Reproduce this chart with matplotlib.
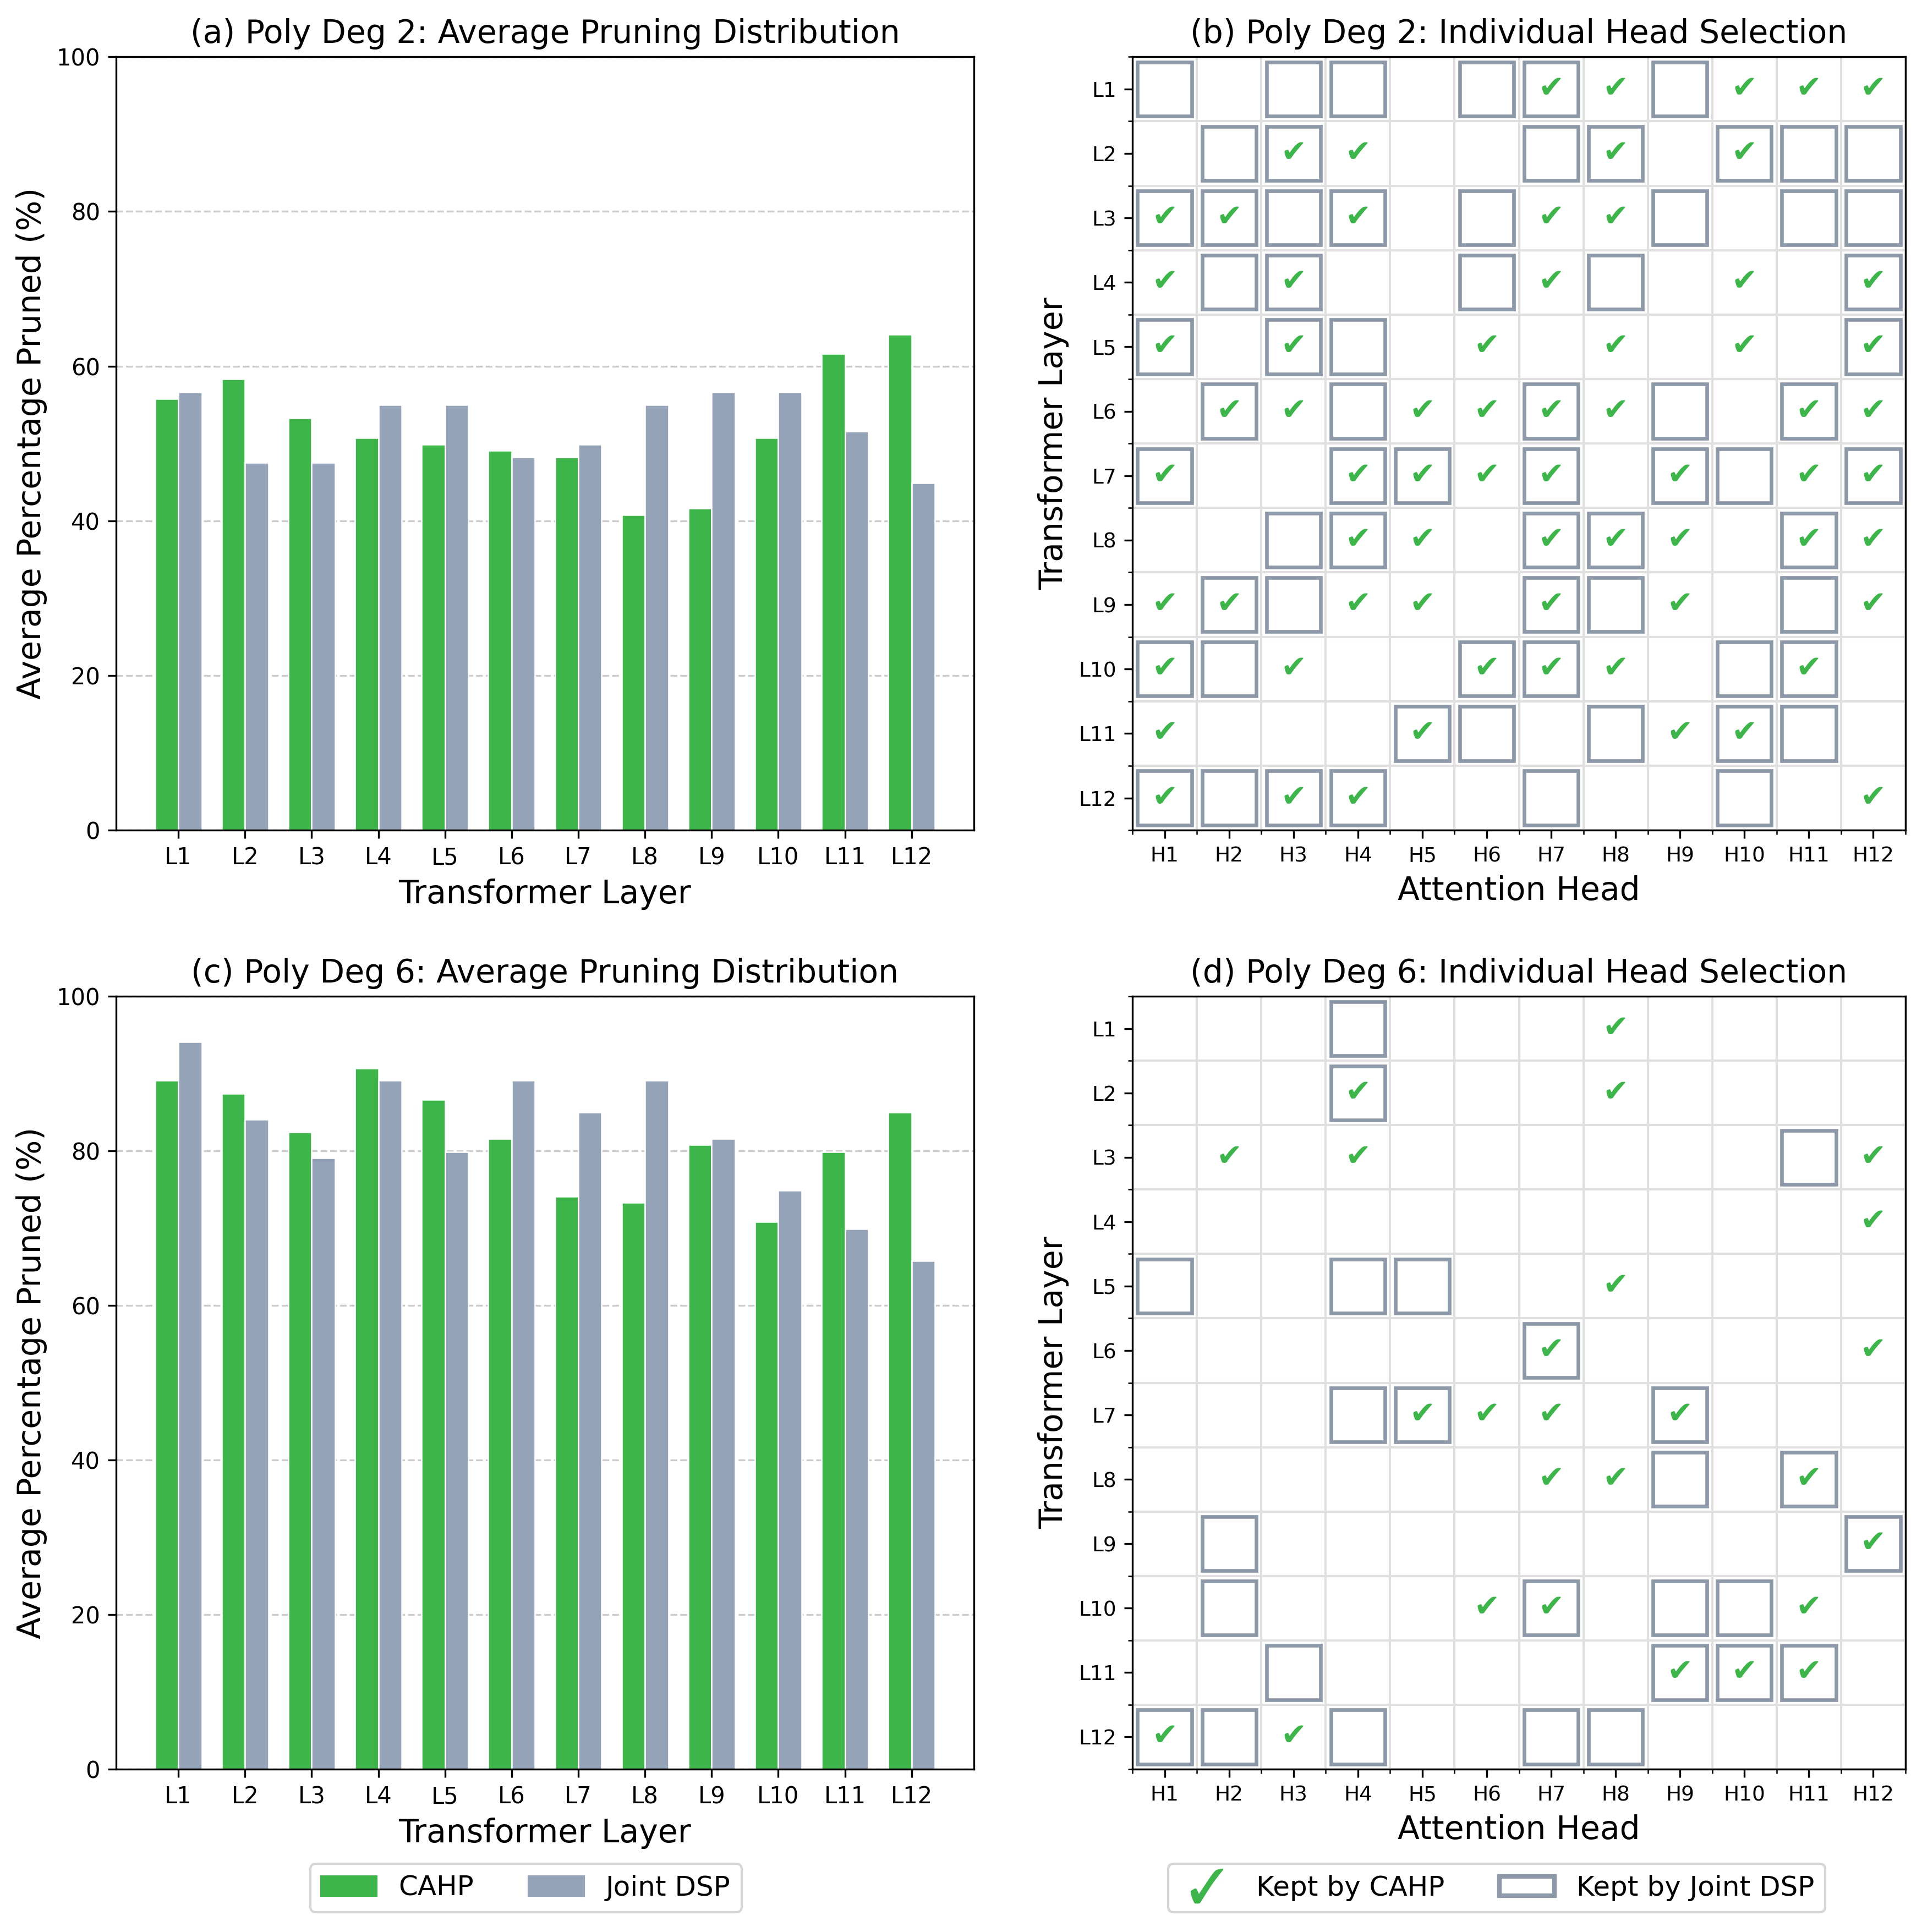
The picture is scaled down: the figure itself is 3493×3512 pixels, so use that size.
import matplotlib
matplotlib.use("Agg")
import matplotlib.pyplot as plt
import numpy as np
from matplotlib.patches import Rectangle, Patch
from matplotlib.lines import Line2D

plt.rcParams["mathtext.fontset"] = "stix"

layers = [f"L{i}" for i in range(1, 13)]
heads = [f"H{i}" for i in range(1, 13)]

# average % pruned per layer
cahp_deg2 = [55.8, 58.3, 53.3, 50.7, 49.9, 49.1, 48.2, 40.8, 41.6, 50.7, 61.6, 64.1]
dsp_deg2 = [56.6, 47.5, 47.5, 55.0, 55.0, 48.2, 49.9, 55.0, 56.6, 56.6, 51.6, 44.9]
cahp_deg6 = [89.1, 87.4, 82.4, 90.7, 86.6, 81.6, 74.1, 73.3, 80.8, 70.8, 79.9, 85.0]
dsp_deg6 = [94.1, 84.1, 79.1, 89.1, 79.9, 89.1, 85.0, 89.1, 81.6, 74.9, 69.9, 65.8]

# kept heads per layer (1-based head numbers)
cahp_heads_deg2 = [
    [7, 8, 10, 11, 12],
    [3, 4, 8, 10],
    [1, 2, 4, 7, 8],
    [1, 3, 7, 10, 12],
    [1, 3, 6, 8, 10, 12],
    [2, 3, 5, 6, 7, 8, 11, 12],
    [1, 4, 5, 6, 7, 9, 11, 12],
    [4, 5, 7, 8, 9, 11, 12],
    [1, 2, 4, 5, 7, 9, 12],
    [1, 3, 6, 7, 8, 11],
    [1, 5, 9, 10],
    [1, 3, 4, 12],
]
dsp_heads_deg2 = [
    [1, 3, 4, 6, 7, 9],
    [2, 3, 7, 8, 10, 11, 12],
    [1, 2, 3, 4, 6, 9, 11, 12],
    [2, 3, 6, 8, 12],
    [1, 3, 4, 12],
    [2, 4, 7, 9, 11],
    [1, 4, 5, 7, 9, 10, 12],
    [3, 4, 7, 8, 11],
    [2, 3, 7, 8, 11],
    [1, 2, 6, 7, 10, 11],
    [5, 6, 8, 10, 11],
    [1, 2, 3, 4, 7, 10],
]
cahp_heads_deg6 = [
    [8], [4, 8], [2, 4, 12], [12], [8], [7, 12],
    [5, 6, 7, 9], [7, 8, 11], [12], [6, 7, 11], [9, 10, 11], [1, 3],
]
dsp_heads_deg6 = [
    [4], [4], [11], [], [1, 4, 5], [7],
    [4, 5, 9], [9, 11], [2, 12], [2, 7, 9, 10], [3, 9, 10, 11], [1, 2, 4, 7, 8],
]

GREEN = "#3db54a"
GRAY = "#94a3b8"
BOX = "#8d98a8"

W, H = 3493, 3512
fig = plt.figure(figsize=(W / 300, H / 300), dpi=300)


def bar_panel(rect, cahp, dsp, title):
    ax = fig.add_axes(rect)
    x = np.arange(len(layers))
    w = 0.35
    ax.bar(x - w / 2, cahp, w, color=GREEN, edgecolor="white", linewidth=0.6, label="CAHP")
    ax.bar(x + w / 2, dsp, w, color=GRAY, edgecolor="white", linewidth=0.6, label="Joint DSP")
    ax.set_xticks(x, layers, fontsize=10)
    ax.tick_params(axis="y", labelsize=10)
    ax.set_ylim(0, 100)
    ax.yaxis.grid(True, linestyle="--", color="#cccccc", linewidth=0.8)
    ax.set_axisbelow(True)
    ax.set_xlabel("Transformer Layer", fontsize=14)
    ax.set_ylabel("Average Percentage Pruned (%)", fontsize=14)
    ax.set_title(title, fontsize=14)
    return ax


def head_panel(rect, cahp_heads, dsp_heads, title):
    ax = fig.add_axes(rect)
    n = len(layers)
    ax.set_xlim(-0.5, n - 0.5)
    ax.set_ylim(n - 0.5, -0.5)
    ax.set_xticks(range(n), heads, fontsize=9)
    ax.set_yticks(range(n), layers, fontsize=9)
    ax.set_xticks(np.arange(-0.5, n, 1), minor=True)
    ax.set_yticks(np.arange(-0.5, n, 1), minor=True)
    ax.grid(which="minor", color="#e0e0e0", linewidth=1.0)
    ax.tick_params(which="minor", length=2)
    ax.set_axisbelow(True)
    for i in range(n):
        for h in dsp_heads[i]:
            ax.add_patch(Rectangle((h - 1 - 0.42, i - 0.42), 0.84, 0.84, fill=False,
                                   edgecolor=BOX, linewidth=1.6, zorder=3))
        for h in cahp_heads[i]:
            ax.text(h - 1, i, "\u2714", ha="center", va="center", color=GREEN,
                    fontsize=13.5, zorder=4)
    ax.set_xlabel("Attention Head", fontsize=14)
    ax.set_ylabel("Transformer Layer", fontsize=14)
    ax.set_title(title, fontsize=14)
    return ax


bar_panel([0.0604, 0.5703, 0.4463, 0.4003], cahp_deg2, dsp_deg2,
          "(a) Poly Deg 2: Average Pruning Distribution")
head_panel([0.5892, 0.5703, 0.4022, 0.4003], cahp_heads_deg2, dsp_heads_deg2,
           "(b) Poly Deg 2: Individual Head Selection")
bar_panel([0.0604, 0.0843, 0.4463, 0.4000], cahp_deg6, dsp_deg6,
          "(c) Poly Deg 6: Average Pruning Distribution")
head_panel([0.5892, 0.0843, 0.4022, 0.4000], cahp_heads_deg6, dsp_heads_deg6,
           "(d) Poly Deg 6: Individual Head Selection")

bar_handles = [Patch(color=GREEN, label="CAHP"), Patch(color=GRAY, label="Joint DSP")]
fig.legend(handles=bar_handles, loc="center", bbox_to_anchor=(0.2737, 0.0228),
           ncol=2, fontsize=12)

head_handles = [
    Line2D([], [], marker="$\\checkmark$", color=GREEN, linestyle="None",
           markersize=15, markeredgewidth=0.3, label="Kept by CAHP"),
    Patch(facecolor="white", edgecolor=BOX, linewidth=2, label="Kept by Joint DSP"),
]
fig.legend(handles=head_handles, loc="center", bbox_to_anchor=(0.7787, 0.0228),
           ncol=2, fontsize=12)

fig.savefig("out.png", dpi=300, facecolor="white")
